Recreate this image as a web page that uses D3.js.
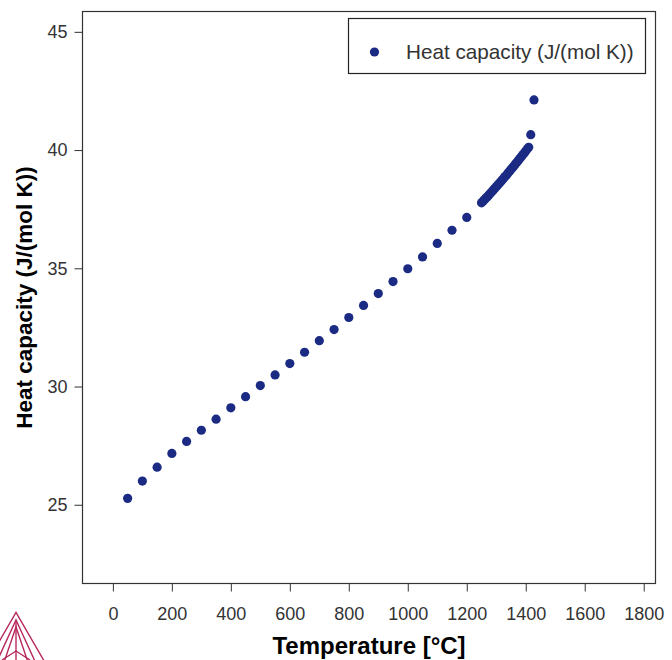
<!DOCTYPE html>
<html lang="en">
<head>
    <meta charset="UTF-8">
    <title>Heat capacity</title>
    <script src="https://cdn.jsdelivr.net/npm/d3@7"></script>
    <style>
        body { margin: 0; background: #fff; }
        svg { display: block; font-family: "Liberation Sans", Arial, sans-serif; }
    </style>
</head>
<body>
    <svg width="672" height="660"></svg>

    <script>
        // temperature in °C
        const temps = [
            50, 100, 150, 200, 250, 300, 350, 400, 450, 500,
            550, 600, 650, 700, 750, 800, 850, 900, 950, 1000,
            1050, 1100, 1150, 1200,
            1250, 1255, 1260, 1265, 1270, 1275, 1280, 1285, 1290, 1295,
            1300, 1305, 1310, 1315, 1320, 1325, 1330, 1335, 1340, 1345,
            1350, 1355, 1360, 1365, 1370, 1375, 1380, 1385, 1390, 1395,
            1400, 1405, 1410,
            1417, 1428
        ];
        // heat capacity J/(mol K)
        const cp = [
            25.27, 26.0, 26.59, 27.17, 27.68, 28.15, 28.62, 29.1, 29.57, 30.04,
            30.49, 30.97, 31.45, 31.94, 32.41, 32.92, 33.43, 33.93, 34.44, 34.98,
            35.48, 36.05, 36.61, 37.15,
            37.77, 37.84, 37.90, 37.97, 38.03, 38.10, 38.17, 38.24, 38.31, 38.38,
            38.45, 38.52, 38.59, 38.66, 38.73, 38.81, 38.88, 38.95, 39.03, 39.10,
            39.18, 39.25, 39.33, 39.41, 39.48, 39.56, 39.64, 39.72, 39.80, 39.88,
            39.96, 40.04, 40.12,
            40.65, 42.12
        ];
        const xTicks = [0, 200, 400, 600, 800, 1000, 1200, 1400, 1600, 1800];
        const yTicks = [25, 30, 35, 40, 45];

        const dotColor = '#1b2b84';
        const frame = { left: 82.5, top: 11.5, right: 655.5, bottom: 583.5 };

        const svg = d3.select('svg');

        const x = d3.scaleLinear()
            .domain([-103, 1840])
            .range([frame.left, frame.right]);
        const y = d3.scaleLinear()
            .domain([21.67, 45.86])
            .range([frame.bottom, frame.top]);

        // x axis
        const xAxis = svg.append('g')
            .attr('transform', `translate(0, ${frame.bottom})`)
            .call(d3.axisBottom(x).tickValues(xTicks).tickSize(8).tickPadding(15.5).tickFormat(d3.format('d')));
        xAxis.select('.domain').remove();
        xAxis.selectAll('line').attr('stroke', '#333');
        xAxis.selectAll('text')
            .attr('font-size', 18)
            .attr('fill', '#333')
            .attr('font-family', '"Liberation Sans", Arial, sans-serif');

        // y axis
        const yAxis = svg.append('g')
            .attr('transform', `translate(${frame.left}, 0)`)
            .call(d3.axisLeft(y).tickValues(yTicks).tickSize(8).tickPadding(7));
        yAxis.select('.domain').remove();
        yAxis.selectAll('line').attr('stroke', '#333');
        yAxis.selectAll('text')
            .attr('font-size', 18)
            .attr('fill', '#333')
            .attr('font-family', '"Liberation Sans", Arial, sans-serif');

        // frame
        svg.append('rect')
            .attr('x', frame.left)
            .attr('y', frame.top)
            .attr('width', frame.right - frame.left)
            .attr('height', frame.bottom - frame.top)
            .attr('fill', 'none')
            .attr('stroke', '#333')
            .attr('stroke-width', 1.2);

        // points
        svg.append('g')
            .selectAll('circle')
            .data(temps.map((t, i) => ({ t: t, v: cp[i] })))
            .enter().append('circle')
            .attr('cx', d => x(d.t))
            .attr('cy', d => y(d.v))
            .attr('r', 4.6)
            .attr('fill', dotColor);

        // axis titles
        svg.append('text')
            .attr('x', (frame.left + frame.right) / 2)
            .attr('y', 654)
            .attr('text-anchor', 'middle')
            .attr('font-size', 24)
            .attr('font-weight', 'bold')
            .attr('fill', '#000')
            .text('Temperature [°C]');

        svg.append('text')
            .attr('transform', `translate(32, ${(frame.top + frame.bottom) / 2}) rotate(-90)`)
            .attr('text-anchor', 'middle')
            .attr('font-size', 22.5)
            .attr('font-weight', 'bold')
            .attr('fill', '#000')
            .text('Heat capacity (J/(mol K))');

        // legend
        const legend = svg.append('g');
        legend.append('rect')
            .attr('x', 348.5)
            .attr('y', 18.5)
            .attr('width', 297)
            .attr('height', 55)
            .attr('fill', '#fff')
            .attr('stroke', '#222')
            .attr('stroke-width', 1.2);
        legend.append('circle')
            .attr('cx', 374.5)
            .attr('cy', 52)
            .attr('r', 4.6)
            .attr('fill', dotColor);
        legend.append('text')
            .attr('x', 406)
            .attr('y', 59)
            .attr('font-size', 20.7)
            .attr('fill', '#333')
            .text('Heat capacity (J/(mol K))');

        // logo in the corner (cut off by the page edge)
        const logo = svg.append('g')
            .attr('fill', 'none')
            .attr('stroke', '#b8285e')
            .attr('stroke-width', 1.4);
        const apexes = [612.5, 620, 627];
        apexes.forEach((ay, i) => {
            const spread = 0.58 - i * 0.12;
            logo.append('path')
                .attr('d', `M${16 - 60 * spread},${ay + 60} L16,${ay} L${16 + 60 * spread},${ay + 60}`);
        });
        logo.append('path').attr('d', 'M16,620 L16,660');
        logo.append('path').attr('d', 'M2,660 L16,651 L30,660');
    </script>
</body>
</html>
